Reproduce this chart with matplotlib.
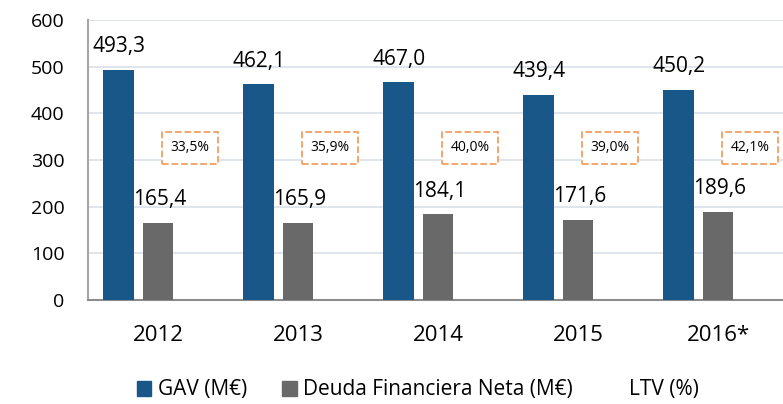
import numpy as np
import matplotlib.pyplot as plt
from matplotlib.patches import Patch

plt.rcParams['font.family'] = ['Open Sans', 'DejaVu Sans']

# data
years = ['2012', '2013', '2014', '2015', '2016*']
gav = [493.3, 462.1, 467.0, 439.4, 450.2]
deuda = [165.4, 165.9, 184.1, 171.6, 189.6]
ltv = [33.5, 35.9, 40.0, 39.0, 42.1]

blue = '#1a5789'
grey = '#696969'
orange = '#f0a062'

fig = plt.figure(figsize=(7.83, 4.04), dpi=100)
ax = fig.add_axes([88/783, 104/404, 700/783, 280/404])

x = np.arange(len(years))
w = 0.22
ax.bar(x - 0.28, gav, w, color=blue, zorder=3)
ax.bar(x, deuda, w, color=grey, zorder=3)

def fmt(v):
    return f'{v:.1f}'.replace('.', ',')

for xi, v in zip(x - 0.28, gav):
    ax.annotate(fmt(v), (xi, v), xytext=(0, 9), textcoords='offset points',
                ha='center', va='bottom', fontsize=15)
for xi, v in zip(x, deuda):
    ax.annotate(fmt(v), (xi, v), xytext=(1, 9), textcoords='offset points',
                ha='center', va='bottom', fontsize=15)

# LTV boxes
for xi, v in zip(x + 0.23, ltv):
    ax.text(xi, 326, fmt(v) + '%', ha='center', va='center', fontsize=10,
            bbox=dict(boxstyle='square,pad=0.6', fc='white', ec=orange,
                      ls='--', lw=1.3), zorder=4)

ax.set_xlim(-0.5, 4.5)
ax.set_ylim(0, 600)
ax.set_yticks(range(0, 601, 100))
ax.set_xticks(x)
ax.set_xticklabels(years, fontsize=16)
ax.tick_params(axis='y', labelsize=14, length=0, pad=17)
ax.tick_params(axis='x', length=0, pad=18)
ax.grid(axis='y', color='#dde3ea', lw=1.3, zorder=0)
for s in ['top', 'right']:
    ax.spines[s].set_visible(False)
ax.spines['left'].set_color('#a6a6a6')
ax.spines['left'].set_linewidth(1.5)
ax.spines['bottom'].set_color('#8c8c8c')
ax.spines['bottom'].set_linewidth(1.5)

handles = [Patch(color=blue), Patch(color=grey), Patch(fc='none', ec='none')]
fig.legend(handles, ['GAV (M€)', 'Deuda Financiera Neta (M€)', 'LTV (%)'],
           loc='center', bbox_to_anchor=(418/783, 1 - 390/404), ncol=3,
           frameon=False, fontsize=15, handlelength=0.7, handleheight=0.7,
           handletextpad=0.3, columnspacing=1.7)

fig.savefig('out.png', dpi=100)
